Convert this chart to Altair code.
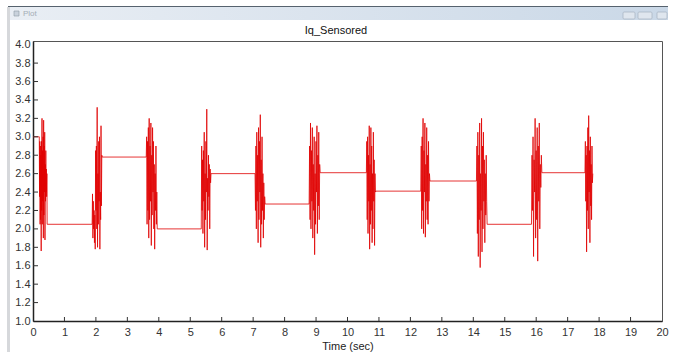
import altair as alt
import numpy as np
import pandas as pd

# Iq current trace: the signal holds a constant level between bursts of
# switching ripple. Each burst is listed by its start/end time and samples.
initial_level = 3.0
burst_start = [0.20, 1.88, 3.60, 5.35, 7.06, 8.78, 10.60, 12.33, 14.10, 15.85, 17.55]
burst_end = [0.45, 2.20, 3.95, 5.66, 7.38, 9.13, 10.90, 12.62, 14.44, 16.18, 17.80]
burst_values = [
    [3.0, 2.35, 2.95, 2.05, 2.9, 2.1, 2.8, 1.76, 2.95, 2.2, 3.2, 2.05, 2.85, 2.3, 3.0,
     1.9, 3.18, 2.15, 2.9, 2.4, 3.05, 1.88, 2.7, 2.3, 2.85, 2.4, 2.65, 2.35, 2.6, 2.05],
    [2.05, 2.38, 1.9, 2.3, 2.0, 2.2, 1.85, 2.15, 1.78, 2.85, 2.2, 2.9, 2.0, 3.32, 1.8,
     2.6, 2.05, 2.95, 2.3, 3.0, 1.78, 2.4, 2.1, 3.12, 2.25, 2.8, 2.78],
    [2.78, 3.0, 2.05, 2.95, 2.2, 3.1, 1.9, 3.2, 2.1, 2.9, 2.3, 3.15, 1.82, 2.8, 2.15,
     3.1, 2.4, 2.95, 2.0, 2.7, 1.78, 2.6, 2.2, 2.9, 2.05, 2.4, 2.0],
    [2.0, 2.9, 2.2, 2.75, 1.95, 2.85, 2.3, 3.05, 1.8, 2.6, 2.1, 2.95, 2.4, 3.3, 1.77,
     2.55, 2.2, 2.8, 2.35, 2.7, 2.0, 2.65, 2.5, 2.6],
    [2.6, 2.2, 2.9, 2.0, 3.05, 2.3, 2.8, 1.85, 3.1, 2.1, 2.95, 2.4, 3.24, 1.8, 2.75,
     2.05, 3.0, 2.2, 2.6, 1.9, 2.5, 2.1, 2.35, 2.27],
    [2.27, 2.9, 2.1, 3.15, 2.0, 2.85, 2.3, 3.1, 1.9, 2.7, 2.2, 3.0, 1.72, 2.6, 2.05,
     2.95, 2.4, 3.12, 1.95, 2.8, 2.25, 3.05, 2.1, 2.7, 2.61],
    [2.61, 2.95, 2.1, 3.0, 1.95, 2.8, 2.3, 3.12, 1.78, 2.7, 2.05, 3.1, 2.2, 2.9, 1.85,
     2.6, 2.0, 3.05, 2.3, 2.75, 1.82, 2.6, 2.4, 2.41],
    [2.41, 2.9, 2.0, 3.0, 2.2, 3.2, 1.95, 2.85, 2.4, 3.15, 1.91, 2.7, 2.3, 3.1, 2.1,
     2.8, 2.05, 2.95, 2.3, 2.6, 2.52],
    [2.52, 2.9, 1.95, 3.05, 1.7, 2.8, 2.1, 3.15, 1.58, 2.6, 2.2, 3.2, 1.75, 2.9, 2.0,
     3.05, 2.3, 2.75, 1.85, 2.6, 2.15, 2.8, 2.3, 2.05],
    [2.05, 2.8, 2.2, 3.0, 1.7, 2.75, 2.4, 3.2, 1.9, 2.85, 2.1, 3.1, 1.65, 2.9, 2.3,
     3.15, 2.0, 2.7, 2.45, 2.8, 2.61],
    [2.61, 2.95, 2.3, 2.8, 1.75, 2.9, 2.2, 3.1, 2.0, 3.23, 2.4, 2.85, 1.85, 3.0, 2.25,
     2.7, 2.1, 2.9, 2.5, 2.6],
]

x_ticks = list(range(0, 21))
y_ticks = [round(1.0 + 0.2 * i, 1) for i in range(16)]

# Build the sampled trace: hold level from t=0, then each burst; the line
# between the last sample of one burst and the first of the next is the hold.
times = [0.0]
values = [initial_level]
for t0, t1, vals in zip(burst_start, burst_end, burst_values):
    ts = np.linspace(t0, t1, len(vals))
    times.extend(ts.tolist())
    values.extend(vals)
trace = pd.DataFrame({"t": times, "iq": values, "order": range(len(times))})

FONT = "Liberation Sans"
W, H = 629, 280

x_scale = alt.Scale(domain=[0, 20], nice=False, zero=False)
y_scale = alt.Scale(domain=[1.0, 4.04], nice=False, zero=False)

line = alt.Chart(trace).mark_line(color="#e00000", strokeWidth=0.8).encode(
    x=alt.X("t:Q", scale=x_scale, title="Time (sec)",
            axis=alt.Axis(values=x_ticks, format="d", ticks=False, tickSize=0,
                          labelPadding=5, labelFlush=False, labelOverlap=False,
                          titlePadding=3, domainColor="#222", domainWidth=1.5)),
    y=alt.Y("iq:Q", scale=y_scale, title=None,
            axis=alt.Axis(values=y_ticks, format=".1f", ticks=False, tickSize=0,
                          labelPadding=3, labelFlush=False, labelOverlap=False,
                          domainColor="#222", domainWidth=1.5)),
    order="order:Q",
)

# inward-pointing tick marks
xt = alt.Chart(pd.DataFrame({"v": x_ticks[1:-1]})).mark_rule(
    color="#333", strokeWidth=1).encode(
    x=alt.X("v:Q", scale=x_scale, axis=None), y=alt.value(H), y2=alt.value(H - 4))
yt = alt.Chart(pd.DataFrame({"v": y_ticks[1:-1]})).mark_rule(
    color="#333", strokeWidth=1).encode(
    y=alt.Y("v:Q", scale=y_scale, axis=None), x=alt.value(0), x2=alt.value(5))

one = alt.Data(values=[{}])

# window frame around the plot
bar_fill = alt.LinearGradient(
    gradient="linear", x1=0, y1=0, x2=1, y2=0,
    stops=[alt.GradientStop(offset=0, color="#e9eef4"),
           alt.GradientStop(offset=1, color="#cad8e7")])
title_bar = alt.Chart(one).mark_rect(color=bar_fill).encode(
    x=alt.value(-23), x2=alt.value(635), y=alt.value(-34), y2=alt.value(-21))
top_edge = alt.Chart(one).mark_rule(color="#56626e", strokeWidth=1).encode(
    x=alt.value(-25), x2=alt.value(635), y=alt.value(-34.5))
left_edge = alt.Chart(one).mark_rect(color="#d6d8db").encode(
    x=alt.value(-26), x2=alt.value(-23), y=alt.value(-34), y2=alt.value(311))
icon = alt.Chart(one).mark_rect(color="#c9d2dc", stroke="#8e9aa6", strokeWidth=0.6).encode(
    x=alt.value(-19), x2=alt.value(-14), y=alt.value(-30), y2=alt.value(-25))
bar_text = alt.Chart(one).mark_text(
    text="Plot", font=FONT, fontSize=8, color="#a4adb6", align="left", baseline="middle").encode(
    x=alt.value(-10), y=alt.value(-27))
btn_x0 = [590, 605, 624]
btn_x1 = [602, 619, 634]
buttons = alt.Chart(pd.DataFrame({"a": btn_x0, "b": btn_x1})).mark_rect(
    color="#dfe6ee", stroke="#a9b6c4", strokeWidth=0.8, cornerRadius=1).encode(
    x=alt.X("a:Q", scale=None, axis=None), x2="b:Q", y=alt.value(-29), y2=alt.value(-22))

plot_title = alt.Chart(one).mark_text(
    text="Iq_Sensored", font=FONT, fontSize=11, color="#111", baseline="middle").encode(
    x=alt.value(303), y=alt.value(-10))

chart = alt.layer(
    title_bar, top_edge, left_edge, icon, bar_text, buttons, plot_title,
    line, xt, yt,
).resolve_axis(x="independent", y="independent").properties(
    width=W, height=H,
    padding={"left": 33, "top": 41, "right": 24, "bottom": 35},
    autosize=alt.AutoSizeParams(type="none"),
    background="white",
).configure_view(
    stroke="#555", strokeWidth=1,
).configure_axis(
    grid=False, labelFont=FONT, labelFontSize=11, labelColor="#333",
    titleFont=FONT, titleFontSize=11, titleColor="#222", titleFontWeight="normal",
)

chart.save("out.html", embed_options={"renderer": "svg", "actions": False})
